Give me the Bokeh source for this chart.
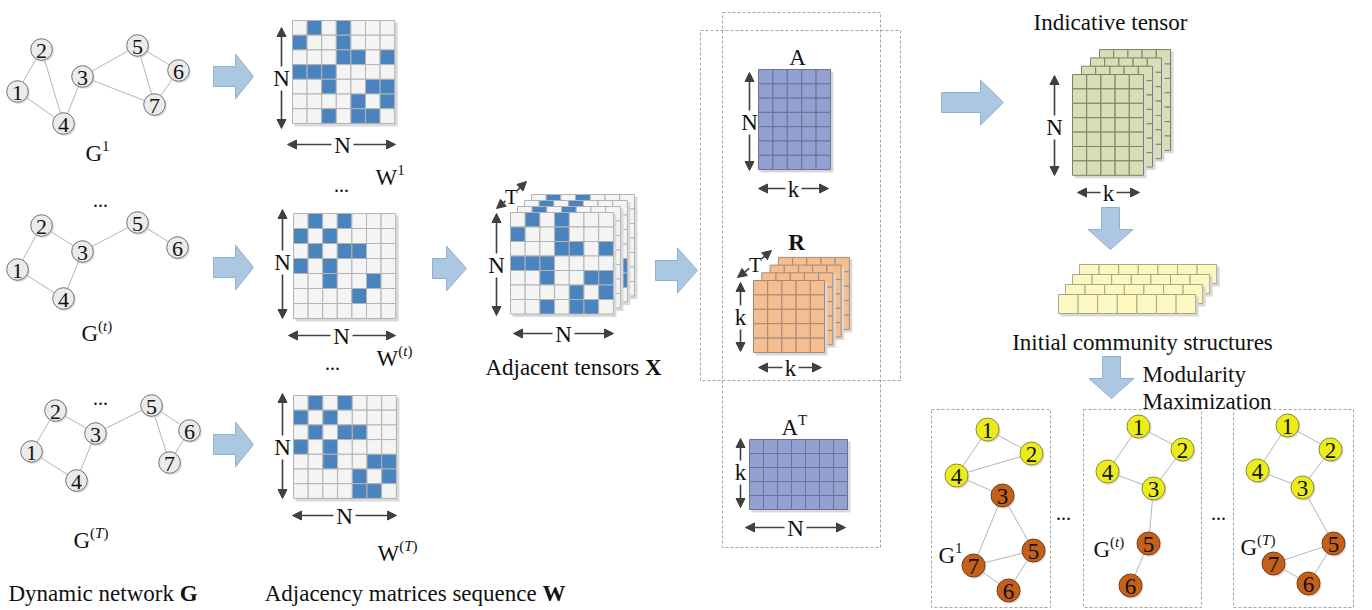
import numpy as np
from bokeh.plotting import figure
from bokeh.models import Range1d, ColumnDataSource, Arrow, NormalHead
from bokeh.core.properties import value
from bokeh.embed import file_html
from bokeh.resources import INLINE

# ---------------- data ----------------
EDGES_1 = [(1, 2), (1, 4), (2, 4), (3, 4), (3, 5), (3, 7), (5, 6), (5, 7), (6, 7)]
EDGES_t = [(1, 2), (1, 4), (2, 3), (3, 4), (3, 5), (5, 6)]
EDGES_T = [(1, 2), (1, 4), (2, 3), (3, 4), (3, 5), (5, 6), (5, 7), (6, 7)]
NODES_1 = [1, 2, 3, 4, 5, 6, 7]
NODES_t = [1, 2, 3, 4, 5, 6]
NODES_T = [1, 2, 3, 4, 5, 6, 7]
YELLOW_1 = [1, 2, 4]          # first community (yellow); the rest are brown
YELLOW_t = [1, 2, 3, 4]
YELLOW_T = [1, 2, 3, 4]
A_ROWS, A_COLS = 7, 5          # N x k
R_ROWS, R_COLS = 5, 5          # k x k
AT_ROWS, AT_COLS = 5, 7        # k x N
IND_ROWS, IND_COLS = 7, 5      # N x k
INIT_ROWS, INIT_COLS = 1, 7
N_LAYERS = 4

# ---------------- layout (pixel positions of the diagram) ----------------
POS_G1 = {1: (17, 91), 2: (41, 49), 3: (82, 76), 4: (63, 123), 5: (137, 45), 6: (178, 70), 7: (154, 104)}
POS_Gt = {1: (17, 269), 2: (41, 225), 3: (82, 251), 4: (63, 298), 5: (137, 222), 6: (177, 247)}
POS_GT = {1: (31, 451), 2: (55, 410), 3: (95, 433), 4: (76, 480), 5: (151, 405), 6: (189, 430), 7: (169, 462)}
POS_C1 = {1: (987, 429), 2: (1031, 453), 3: (1002, 495), 4: (956, 475), 5: (1033, 550), 6: (1008, 590), 7: (973, 565)}
POS_Ct = {1: (1138, 426), 2: (1182, 449), 3: (1153, 488), 4: (1107, 471), 5: (1148, 543), 6: (1130, 585)}
POS_CT = {1: (1287, 425), 2: (1330, 449), 3: (1302, 487), 4: (1257, 470), 5: (1333, 543), 6: (1308, 583), 7: (1273, 563)}

FONT = value("Liberation Serif, Times New Roman, DejaVu Serif, serif")
DARK = "#404040"
TXT = "#111111"
FS = 23

p = figure(width=1372, height=610, x_range=Range1d(0, 1372), y_range=Range1d(610, 0),
           x_axis_type=None, y_axis_type=None, output_backend="svg", toolbar_location=None,
           min_border=0, background_fill_color="white", border_fill_color="white")
p.outline_line_color = None


def adjacency(edges, n=7):
    m = np.zeros((n, n), dtype=int)
    for a, b in edges:
        m[a - 1, b - 1] = 1
        m[b - 1, a - 1] = 1
    return m


ADJ_1, ADJ_t, ADJ_T = adjacency(EDGES_1), adjacency(EDGES_t), adjacency(EDGES_T)


def txt(x, y, s, size=FS, align="center", baseline="alphabetic", style="normal", color=TXT):
    p.text(x=[x], y=[y], text=[s], text_font=FONT, text_font_size=f"{size}px",
           text_align=align, text_baseline=baseline, text_font_style=style, text_color=color)


def grid(x0, y0, rows, cols, cw, ch, fill, line, mask=None, mask_fill=None, shadow=True):
    if shadow:
        p.quad(left=[x0 + 2], right=[x0 + cols * cw + 3], top=[y0 + 2], bottom=[y0 + rows * ch + 3],
               fill_color="#d9d9d9", line_color=None)
    L, R, T, B, F = [], [], [], [], []
    for r in range(rows):
        for c in range(cols):
            L.append(x0 + c * cw); R.append(x0 + (c + 1) * cw)
            T.append(y0 + r * ch); B.append(y0 + (r + 1) * ch)
            F.append(mask_fill if (mask is not None and mask[r][c]) else fill)
    p.quad(left=L, right=R, top=T, bottom=B, fill_color=F, line_color=line, line_width=1)


def block_right(x0, x1, yc, head_len=19, head_h=45, shaft_h=20):
    xs = [x0, x1 - head_len, x1 - head_len, x1, x1 - head_len, x1 - head_len, x0]
    ys = [yc - shaft_h / 2, yc - shaft_h / 2, yc - head_h / 2, yc, yc + head_h / 2, yc + shaft_h / 2, yc + shaft_h / 2]
    return xs, ys


def block_down(xc, y0, y1, head_len=20, head_w=45, shaft_w=18):
    ys = [y0, y1 - head_len, y1 - head_len, y1, y1 - head_len, y1 - head_len, y0]
    xs = [xc - shaft_w / 2, xc - shaft_w / 2, xc - head_w / 2, xc, xc + head_w / 2, xc + shaft_w / 2, xc + shaft_w / 2]
    return xs, ys


# ---------------- dashed boxes ----------------
BOXES = [(722, 12, 880, 547), (700, 30, 900, 380),
         (931, 409, 1050, 607), (1083, 409, 1201, 607), (1233, 409, 1353, 607)]
p.quad(left=[b[0] for b in BOXES], top=[b[1] for b in BOXES], right=[b[2] for b in BOXES],
       bottom=[b[3] for b in BOXES], fill_color=None, line_color="#a6a6a6", line_width=1, line_dash="3 2")

# ---------------- block arrows ----------------
bx, by = [], []
for (x0, x1, yc, hl) in [(213, 253, 76, 18), (213, 253, 267, 18), (213, 253, 444, 18),
                         (432, 466, 268, 20), (655, 697, 270, 20), (941, 1003, 102, 23)]:
    xs, ys = block_right(x0, x1, yc, head_len=hl)
    bx.append(xs); by.append(ys)
for (xc, y0, y1) in [(1110, 207, 249), (1111, 356, 398)]:
    xs, ys = block_down(xc, y0, y1)
    bx.append(xs); by.append(ys)
p.patches(bx, by, fill_color="#abc7e2", line_color="#8fb0cf", line_width=1)

# ---------------- graphs ----------------
EDGE_COL = "#b4b4b4"


def draw_graph(pos, nodes, edges, fills, lines, r, fsize):
    p.segment([pos[a][0] for a, b in edges], [pos[a][1] for a, b in edges],
              [pos[b][0] for a, b in edges], [pos[b][1] for a, b in edges],
              line_color=EDGE_COL, line_width=1)
    xs = [pos[i][0] for i in nodes]
    ys = [pos[i][1] for i in nodes]
    p.circle([x + 1.5 for x in xs], [y + 1.5 for y in ys], radius=r, fill_color="#c8c8c8",
             fill_alpha=0.6, line_color=None)
    p.circle(xs, ys, radius=r, fill_color=fills, line_color=lines, line_width=1)
    p.text(xs, [y + 1 for y in ys], text=[str(i) for i in nodes], text_font=FONT,
           text_font_size=f"{fsize}px", text_align="center", text_baseline="middle", text_color=TXT)


draw_graph(POS_G1, NODES_1, EDGES_1, "#ebebeb", "#707070", 10.8, 22)
draw_graph(POS_Gt, NODES_t, EDGES_t, "#ebebeb", "#707070", 10.8, 22)
draw_graph(POS_GT, NODES_T, EDGES_T, "#ebebeb", "#707070", 10.8, 22)

for pos, nodes, edges, yel in [(POS_C1, NODES_1, EDGES_1, YELLOW_1), (POS_Ct, NODES_t, EDGES_t, YELLOW_t),
                               (POS_CT, NODES_T, EDGES_T, YELLOW_T)]:
    fills = ["#ecec1c" if i in yel else "#c2601c" for i in nodes]
    lines = ["#8a8a3a" if i in yel else "#7a3c14" for i in nodes]
    draw_graph(pos, nodes, edges, fills, lines, 11.5, 23)

# ---------------- adjacency matrices ----------------
WHITE, BLUE, GLINE = "#f4f4f4", "#4a84bf", "#b3b3b3"
grid(292, 20, 7, 7, 14.6, 14.7, WHITE, GLINE, ADJ_1, BLUE)
grid(293, 213, 7, 7, 14.6, 15.0, WHITE, GLINE, ADJ_t, BLUE)
grid(293, 395, 7, 7, 14.7, 14.7, WHITE, GLINE, ADJ_T, BLUE)

# tensor X (stack of layers)
layers = [ADJ_t, ADJ_T, ADJ_t, ADJ_1]
for k, m in enumerate(layers):
    off = N_LAYERS - 1 - k
    grid(510 + 7 * off, 212 - 6 * off, 7, 7, 14.7, 14.5, WHITE, GLINE, m, BLUE)

# A, R, A^T
grid(758, 69, A_ROWS, A_COLS, 14.4, 14.3, "#92a0d2", "#6c7292")
for k in range(N_LAYERS):
    off = N_LAYERS - 1 - k
    grid(753 + 8.3 * off, 280 - 7.7 * off, R_ROWS, R_COLS, 14.2, 14.4, "#f5be91", "#a48a76")
grid(749, 439, AT_ROWS, AT_COLS, 14.0, 14.0, "#92a0d2", "#6c7292")

# indicative tensor
for k in range(N_LAYERS):
    off = N_LAYERS - 1 - k
    grid(1072 + 9 * off, 74 - 8.3 * off, IND_ROWS, IND_COLS, 14.2, 14.4, "#d6dfb5", "#7c8268")

# initial community structures
for k in range(N_LAYERS):
    off = N_LAYERS - 1 - k
    grid(1058 + 7 * off, 294 - 10 * off, INIT_ROWS, INIT_COLS, 19.6, 19.0, "#fcf8bf", "#a9a88e")

# ---------------- dimension arrows ----------------
VERT = [(281, 27, 128, "N", 78), (282, 209, 318, "N", 262), (282, 393, 498, "N", 447),
        (496, 213, 315, "N", 265), (749, 72, 170, "N", 122), (740, 282, 351, "k", 317),
        (740, 438, 507, "k", 472), (1054, 75, 175, "N", 127)]
HORZ = [(144, 287, 395, "N", 342), (335, 288, 395, "N", 341), (515, 292, 396, "N", 344),
        (333, 513, 613, "N", 563), (188, 758, 828, "k", 793), (367, 758, 821, "k", 790),
        (527, 745, 845, "N", 795), (192, 1077, 1139, "k", 1108)]
DIAG = [((496, 208), (526, 181), (511, 195)), ((737, 277), (771, 250), (755, 263))]

xs_, ys_, xe_, ye_ = [], [], [], []
for x, yt, yb, lab, yl in VERT:
    g = 12
    xs_ += [x, x]; ys_ += [yl - g, yl + g]; xe_ += [x, x]; ye_ += [yt, yb]
    txt(x, yl, lab, FS, baseline="middle")
for y, xl, xr, lab, xlab in HORZ:
    g = 11 if lab == "N" else 8
    xs_ += [xlab - g, xlab + g]; ys_ += [y, y]; xe_ += [xl, xr]; ye_ += [y, y]
    txt(xlab, y + 1, lab, FS, baseline="middle")
for (a, b, c) in DIAG:
    d = np.array(b, float) - np.array(a, float)
    u = d / np.linalg.norm(d)
    g = 8
    xs_ += [c[0] - u[0] * g, c[0] + u[0] * g]; ys_ += [c[1] - u[1] * g, c[1] + u[1] * g]
    xe_ += [a[0], b[0]]; ye_ += [a[1], b[1]]
    txt(c[0], c[1] + 1, "T", 21, baseline="middle")

src = ColumnDataSource(dict(xs=xs_, ys=ys_, xe=xe_, ye=ye_))
p.add_layout(Arrow(x_start="xs", y_start="ys", x_end="xe", y_end="ye", source=src,
                   line_color=DARK, line_width=1.6,
                   end=NormalHead(size=9, fill_color=DARK, line_color=DARK, line_width=1)))

# ---------------- labels ----------------
SUP_W = {"(": 5.0, ")": 5.0, "t": 4.2, "T": 8.3, "1": 7.5}


def sup_label(x, yb, base, base_w, sup, italic_chars=("t", "T"), size=FS, ssize=15, rise=8):
    txt(x, yb, base, size, align="left")
    sx = x + base_w
    for ch in sup:
        txt(sx, yb - rise, ch, ssize, align="left", style="italic" if ch in italic_chars else "normal")
        sx += SUP_W[ch]


GW, WW = 16.6, 21.7
sup_label(85, 153, "G", GW, "1")
sup_label(81, 333, "G", GW, "(t)")
sup_label(73, 540, "G", GW, "(T)")
sup_label(375, 177, "W", WW, "1")
sup_label(376, 358, "W", WW, "(t)")
sup_label(377, 553, "W", WW, "(T)")
sup_label(938, 555, "G", GW, "1")
sup_label(1093, 549, "G", GW, "(t)")
sup_label(1240, 547, "G", GW, "(T)")
sup_label(781, 427, "A", GW, "T", italic_chars=())

txt(797, 57, "A")
txt(796, 242, "R", style="bold")
txt(1110, 22, "Indicative tensor")
txt(1142, 342, "Initial community structures")
txt(1142, 374, "Modularity", align="left")
txt(1142, 401, "Maximization", align="left")

txt(173.4, 593, "Dynamic network", align="right")
txt(179.2, 593, "G", align="left", style="bold")
txt(536.2, 593, "Adjacency matrices sequence", align="right")
txt(541.9, 593, "W", align="left", style="bold")
txt(638.8, 367, "Adjacent tensors", align="right")
txt(644.5, 367, "X", align="left", style="bold")

for (x, y) in [(100, 199), (341, 184), (332, 362), (100, 397), (1063, 512), (1218, 512)]:
    txt(x, y, "...", 20)

open("out.html", "w").write(file_html(p, INLINE))
